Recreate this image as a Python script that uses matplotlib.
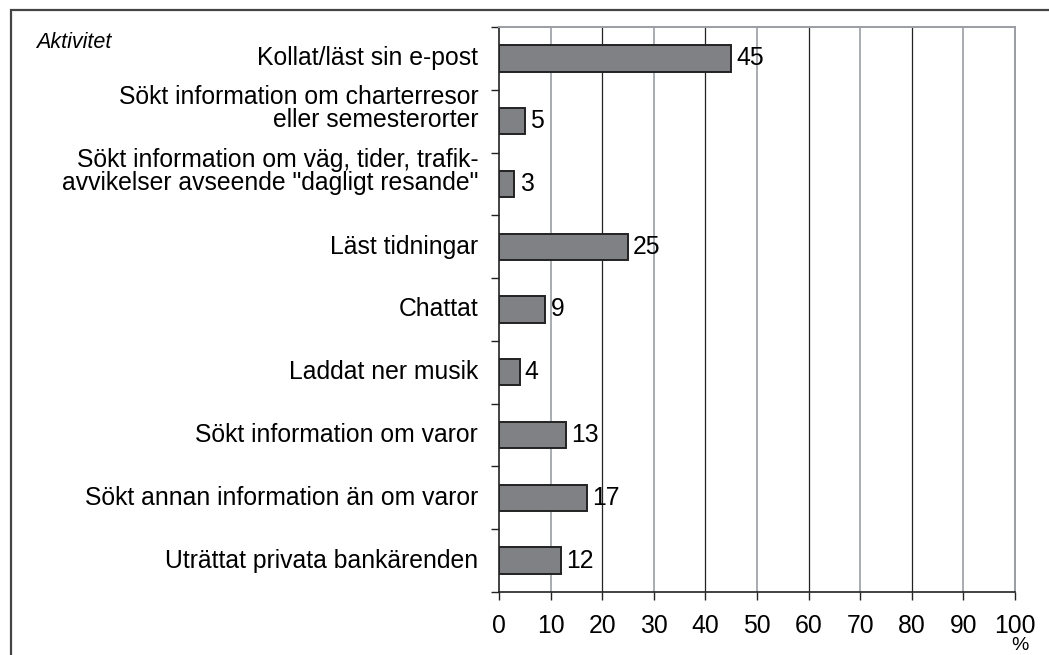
import matplotlib.pyplot as plt
from matplotlib.patches import Rectangle

plt.rcParams['font.family'] = ['Liberation Sans', 'DejaVu Sans']

aktiviteter = [
    'Kollat/läst sin e-post',
    'Sökt information om charterresor\neller semesterorter',
    'Sökt information om väg, tider, trafik-\navvikelser avseende "dagligt resande"',
    'Läst tidningar',
    'Chattat',
    'Laddat ner musik',
    'Sökt information om varor',
    'Sökt annan information än om varor',
    'Uträttat privata bankärenden',
]
andel = [45, 5, 3, 25, 9, 4, 13, 17, 12]
xticks = list(range(0, 101, 10))

fs = 17.8
fig = plt.figure(figsize=(10.49, 6.55), dpi=100)
ax = fig.add_axes([499/1049, 1 - 592/655, (1015 - 499)/1049, (592 - 27)/655])

# yttre ram
fig.add_artist(Rectangle((11/1049, -0.1), 1.2, 1 - 10/655 + 0.1,
                         transform=fig.transFigure, fill=False,
                         edgecolor='#444444', linewidth=1.6))

pos = list(range(len(aktiviteter)))
ax.barh(pos, andel, height=0.42, color='#808185', edgecolor='#222222',
        linewidth=1.4, zorder=3)

# gridlinjer, varannan grå / svart
for v in xticks[1:]:
    c = '#9a9ea3' if (v // 10) % 2 == 1 or v == 100 else '#222222'
    ax.axvline(v, color=c, linewidth=1.2 if c != '#222222' else 0.9, zorder=1)

for p, v in zip(pos, andel):
    ax.text(v + 1.0, p, str(v), va='center', ha='left', fontsize=fs, zorder=4)

# kategorietiketter (flerradiga lyfts upp en halv rad)
for p, lab in zip(pos, aktiviteter):
    dy = 9 if '\n' in lab else 0
    ax.annotate(lab, xy=(0, p), xycoords=('axes fraction', 'data'),
                xytext=(-15, dy), textcoords='offset points',
                ha='right', va='center', fontsize=fs, linespacing=0.95,
                multialignment='right')

ax.set_xlim(0, 100)
ax.set_ylim(len(aktiviteter) - 0.5, -0.5)
ax.set_xticks(xticks)
ax.set_xticklabels([str(x) for x in xticks], fontsize=fs)
ax.tick_params(axis='x', direction='out', length=6, width=1, color='#222222', pad=10)

ax.set_yticks([p - 0.5 for p in pos] + [len(pos) - 0.5])
ax.set_yticklabels([])
ax.tick_params(axis='y', direction='out', length=6, width=1, color='#222222')

for s in ['top', 'right']:
    ax.spines[s].set_color('#9a9ea3')
    ax.spines[s].set_linewidth(1.4)
for s in ['left', 'bottom']:
    ax.spines[s].set_color('#222222')
    ax.spines[s].set_linewidth(1.2)

fig.text(36/1049, 1 - 42/655, 'Aktivitet', fontsize=15.5, style='italic', va='center', ha='left')
fig.text(1020/1049, 1 - 645/655, '%', fontsize=14, va='center', ha='center')

fig.savefig('out.png', dpi=100)
